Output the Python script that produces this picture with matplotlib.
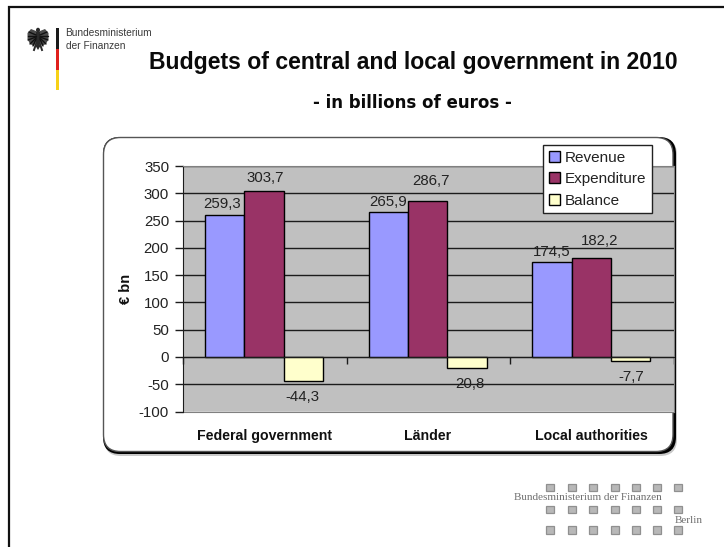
import matplotlib
matplotlib.use("Agg")
import matplotlib.pyplot as plt
import numpy as np
from matplotlib.patches import FancyBboxPatch, Rectangle, Ellipse, Polygon

plt.rcParams['font.family'] = ['Liberation Sans', 'DejaVu Sans']
plt.rcParams['axes.unicode_minus'] = False

categories = ["Federal government", "Länder", "Local authorities"]
revenue = [259.3, 265.9, 174.5]
expenditure = [303.7, 286.7, 182.2]
balance = [-44.3, -20.8, -7.7]
revenue_labels = ["259,3", "265,9", "174,5"]
expenditure_labels = ["303,7", "286,7", "182,2"]
balance_labels = ["-44,3", "20,8", "-7,7"]
y_ticks = [-100, -50, 0, 50, 100, 150, 200, 250, 300, 350]

W, H = 724, 547
fig = plt.figure(figsize=(W / 100, H / 100), dpi=100, facecolor="white")

# Page layer in pixel units, origin top-left
page = fig.add_axes([0, 0, 1, 1], zorder=0)
page.set_xlim(0, W)
page.set_ylim(H, 0)
page.axis("off")

# Slide border: top and left only
page.plot([9, 9, 723], [H, 7, 7], color="#111111", lw=1.6, solid_joinstyle="miter")

# Federal eagle emblem
ink = "#2a2a2a"
page.add_patch(Ellipse((38, 38), 7, 15, color=ink, lw=0))
page.add_patch(Ellipse((38, 30), 4, 4.5, color=ink, lw=0))
for side in (-1, 1):
    wing = [[38 + side * 2, 31], [38 + side * 7, 29], [38 + side * 10.5, 33], [38 + side * 10.5, 39],
            [38 + side * 8, 44], [38 + side * 4, 46], [38 + side * 2, 42]]
    page.add_patch(Polygon(wing, fc="#4a4a4a", ec="none"))
    for i, (dx, dy) in enumerate([(9, -6), (10, -2), (10, 2), (8, 6), (5, 8)]):
        page.plot([38 + side * 2, 38 + side * dx], [35 + i, 38 + dy],
                  color="#111111", lw=1.0, solid_capstyle="round")
    page.plot([38 + side * 2, 38 + side * 4], [44, 50], color=ink, lw=1.4)
page.add_patch(Polygon([[35, 45], [41, 45], [38, 50]], color=ink, lw=0))

# Flag stripe
page.add_patch(Rectangle((56, 28), 2.6, 20.5, color="#1a1a1a", lw=0))
page.add_patch(Rectangle((56, 48.5), 2.6, 21.5, color="#e0201c", lw=0))
page.add_patch(Rectangle((56, 70), 2.6, 20, color="#f7d117", lw=0))

page.text(65.5, 33, "Bundesministerium", fontsize=7.3, color="#3a3a3a", va="center", ha="left")
page.text(65.5, 46, "der Finanzen", fontsize=7.3, color="#3a3a3a", va="center", ha="left")

page.text(413, 62, "Budgets of central and local government in 2010", fontsize=16.6,
          fontweight="bold", color="#0a0a0a", ha="center", va="center")
page.text(412.5, 102.5, "- in billions of euros -", family="DejaVu Sans", fontsize=12,
          fontweight="bold", color="#0a0a0a", ha="center", va="center")

# Rounded chart panel with a drop shadow
R = 17
page.add_patch(FancyBboxPatch((104 + R, 138 + R), 573 - 2 * R, 318 - 2 * R,
                              boxstyle=f"round,pad={R},rounding_size={R}",
                              fc="#c8c8c8", ec="none"))
page.add_patch(FancyBboxPatch((103 + R, 137 + R), 573 - 2 * R, 317 - 2 * R,
                              boxstyle=f"round,pad={R},rounding_size={R}",
                              fc="black", ec="none"))
page.add_patch(FancyBboxPatch((103.5 + R, 137.5 + R), 569.5 - 2 * R, 314 - 2 * R,
                              boxstyle=f"round,pad={R},rounding_size={R}",
                              fc="white", ec="#555555", lw=1))

# Ministry mark, lower right
for x in [549.5, 571.5, 592.5, 614.5, 635.5, 656.5, 677.5]:
    for y in [487.5, 509.5, 530]:
        page.add_patch(Rectangle((x - 4, y - 3.7), 8, 7.4, fc="#b8b8b8", ec="#909090", lw=0.9))
page.text(587.5, 497.5, "Bundesministerium der Finanzen", family="Liberation Serif",
          fontsize=8, color="#707070", ha="center", va="center")
page.text(688.5, 520.5, "Berlin", family="Liberation Serif", fontsize=8,
          color="#707070", ha="center", va="center")
page.text(126, 289, "€ bn", rotation=90, fontweight="bold", fontsize=10.5, color="#111111",
          ha="center", va="center")

# Bar chart
left, right, top, bottom = 183, 674, 166, 411.5
ax = fig.add_axes([left / W, 1 - bottom / H, (right - left) / W, (bottom - top) / H], zorder=2)
ax.set_facecolor("#C0C0C0")
ax.set_xlim(0, 3)
ax.set_ylim(-100, 350)

x = np.arange(len(categories)) + 0.495
width = 0.24
groups = [
    (revenue, -width, "#9999FF", "Revenue", revenue_labels, [(-2.7, 11.3), (-0.5, 10), (0, 10)]),
    (expenditure, 0, "#993366", "Expenditure", expenditure_labels, [(1.5, 13.3), (3, 19.3), (8, 16.7)]),
    (balance, width, "#FFFFCC", "Balance", balance_labels, [(-1, -15.5), (2.8, -15.6), (1, -16)]),
]
for values, shift, color, name, labels, nudges in groups:
    ax.bar(x + shift, values, width, color=color, edgecolor="black",
           linewidth=1, zorder=3, label=name)
    # Value labels, nudged in pixels from each bar's end
    for xi, v, lab, nudge in zip(x + shift, values, labels, nudges):
        ax.annotate(lab, (xi, v), xytext=nudge, textcoords="offset pixels",
                    ha="center", va="center", fontsize=10.8, color="#222222", zorder=5)

ax.set_yticks(y_ticks)
ax.yaxis.grid(True, color="#1c1c1c", lw=1)
ax.set_axisbelow(True)
ax.tick_params(axis="y", length=6, width=1, color="#1c1c1c", labelsize=10.8,
               labelcolor="#222222", pad=4)
ax.spines["left"].set_color("#1c1c1c")
ax.spines["right"].set_color("#808080")
ax.spines["top"].set_color("#808080")
ax.spines["bottom"].set_position(("data", 0))
ax.spines["bottom"].set_color("#1c1c1c")
ax.spines["bottom"].set_zorder(4)
ax.set_xticks([0, 1, 2, 3])
ax.tick_params(axis="x", direction="out", length=5, width=1, color="#1c1c1c", labelbottom=False)

lower = ax.secondary_xaxis("bottom")
lower.set_xticks(x, categories, fontweight="bold", fontsize=10.2, color="#111111")
lower.tick_params(axis="x", length=0, pad=12.7)
lower.spines["bottom"].set_color("#808080")

leg = ax.legend(loc="upper left", bbox_to_anchor=(543 / W, 1 - 145 / H),
                bbox_transform=fig.transFigure, fontsize=11, frameon=True, fancybox=False,
                edgecolor="#222222", facecolor="white", framealpha=1, borderaxespad=0,
                handlelength=0.72, handleheight=0.72, handletextpad=0.36, labelspacing=0.5,
                borderpad=0.36, labelcolor="#222222")
leg.get_frame().set_linewidth(1)
leg.set_zorder(6)

fig.savefig("out.png", dpi=100)
